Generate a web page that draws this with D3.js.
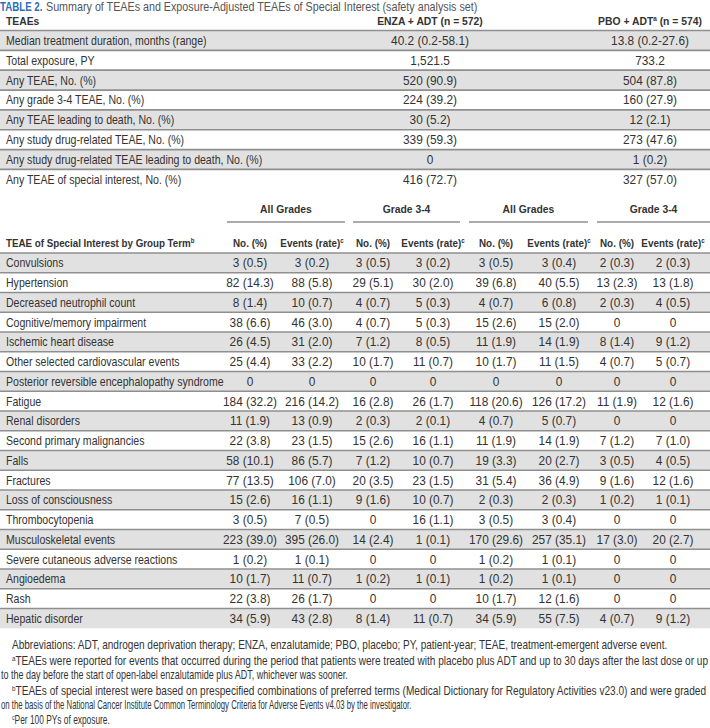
<!DOCTYPE html>
<html>
<head>
<meta charset="utf-8">
<script src="https://cdn.jsdelivr.net/npm/d3@7"></script>
<style>
  html, body { margin: 0; padding: 0; background: #fff; }
  svg { display: block; font-family: "Liberation Sans", Arial, sans-serif; }
</style>
</head>
<body>
<div id="chart"></div>
<script>
// ---------- Data ----------
const t1Labels = [
  'Median treatment duration, months (range)',
  'Total exposure, PY',
  'Any TEAE, No. (%)',
  'Any grade 3-4 TEAE, No. (%)',
  'Any TEAE leading to death, No. (%)',
  'Any study drug-related TEAE, No. (%)',
  'Any study drug-related TEAE leading to death, No. (%)',
  'Any TEAE of special interest, No. (%)'
];
const t1Enza = ['40.2 (0.2-58.1)', '1,521.5', '520 (90.9)', '224 (39.2)', '30 (5.2)', '339 (59.3)', '0', '416 (72.7)'];
const t1Pbo  = ['13.8 (0.2-27.6)', '733.2', '504 (87.8)', '160 (27.9)', '12 (2.1)', '273 (47.6)', '1 (0.2)', '327 (57.0)'];

const terms = [
  'Convulsions', 'Hypertension', 'Decreased neutrophil count', 'Cognitive/memory impairment',
  'Ischemic heart disease', 'Other selected cardiovascular events', 'Posterior reversible encephalopathy syndrome',
  'Fatigue', 'Renal disorders', 'Second primary malignancies', 'Falls', 'Fractures', 'Loss of consciousness',
  'Thrombocytopenia', 'Musculoskeletal events', 'Severe cutaneous adverse reactions', 'Angioedema', 'Rash',
  'Hepatic disorder'
];
const enzaAllN  = ['3 (0.5)','82 (14.3)','8 (1.4)','38 (6.6)','26 (4.5)','25 (4.4)','0','184 (32.2)','11 (1.9)','22 (3.8)','58 (10.1)','77 (13.5)','15 (2.6)','3 (0.5)','223 (39.0)','1 (0.2)','10 (1.7)','22 (3.8)','34 (5.9)'];
const enzaAllEv = ['3 (0.2)','88 (5.8)','10 (0.7)','46 (3.0)','31 (2.0)','33 (2.2)','0','216 (14.2)','13 (0.9)','23 (1.5)','86 (5.7)','106 (7.0)','16 (1.1)','7 (0.5)','395 (26.0)','1 (0.1)','11 (0.7)','26 (1.7)','43 (2.8)'];
const enzaG34N  = ['3 (0.5)','29 (5.1)','4 (0.7)','4 (0.7)','7 (1.2)','10 (1.7)','0','16 (2.8)','2 (0.3)','15 (2.6)','7 (1.2)','20 (3.5)','9 (1.6)','0','14 (2.4)','0','1 (0.2)','0','8 (1.4)'];
const enzaG34Ev = ['3 (0.2)','30 (2.0)','5 (0.3)','5 (0.3)','8 (0.5)','11 (0.7)','0','26 (1.7)','2 (0.1)','16 (1.1)','10 (0.7)','23 (1.5)','10 (0.7)','16 (1.1)','1 (0.1)','0','1 (0.1)','0','11 (0.7)'];
const pboAllN   = ['3 (0.5)','39 (6.8)','4 (0.7)','15 (2.6)','11 (1.9)','10 (1.7)','0','118 (20.6)','4 (0.7)','11 (1.9)','19 (3.3)','31 (5.4)','2 (0.3)','3 (0.5)','170 (29.6)','1 (0.2)','1 (0.2)','10 (1.7)','34 (5.9)'];
const pboAllEv  = ['3 (0.4)','40 (5.5)','6 (0.8)','15 (2.0)','14 (1.9)','11 (1.5)','0','126 (17.2)','5 (0.7)','14 (1.9)','20 (2.7)','36 (4.9)','2 (0.3)','3 (0.4)','257 (35.1)','1 (0.1)','1 (0.1)','12 (1.6)','55 (7.5)'];
const pboG34N   = ['2 (0.3)','13 (2.3)','2 (0.3)','0','8 (1.4)','4 (0.7)','0','11 (1.9)','0','7 (1.2)','3 (0.5)','9 (1.6)','1 (0.2)','0','17 (3.0)','0','0','0','4 (0.7)'];
const pboG34Ev  = ['2 (0.3)','13 (1.8)','4 (0.5)','0','9 (1.2)','5 (0.7)','0','12 (1.6)','0','7 (1.0)','4 (0.5)','12 (1.6)','1 (0.1)','0','20 (2.7)','0','0','0','9 (1.2)'];

const groups = ['All Grades', 'Grade 3-4', 'All Grades', 'Grade 3-4'];
const colKeys = ['eAN', 'eAE', 'eGN', 'eGE', 'pAN', 'pAE', 'pGN', 'pGE'];
const colData = [enzaAllN, enzaAllEv, enzaG34N, enzaG34Ev, pboAllN, pboAllEv, pboG34N, pboG34Ev];

const footnotes = [
  { sup: '', text: 'Abbreviations: ADT, androgen deprivation therapy; ENZA, enzalutamide; PBO, placebo; PY, patient-year; TEAE, treatment-emergent adverse event.' },
  { sup: 'a', text: 'TEAEs were reported for events that occurred during the period that patients were treated with placebo plus ADT and up to 30 days after the last dose or up' },
  { sup: '', text: 'to the day before the start of open-label enzalutamide plus ADT, whichever was sooner.', cont: true },
  { sup: 'b', text: 'TEAEs of special interest were based on prespecified combinations of preferred terms (Medical Dictionary for Regulatory Activities v23.0) and were graded' },
  { sup: '', text: 'on the basis of the National Cancer Institute Common Terminology Criteria for Adverse Events v4.03 by the investigator.', cont: true },
  { sup: 'c', text: 'Per 100 PYs of exposure.' }
];
// right edge each footnote line reaches in the original
const footEnds = [668, 709, 348, 707, 412, 110];

// ---------- Layout ----------
const W = 710, H = 728;
const TXT = '#333', SHADE = '#e1e1e1', RULE = '#8f8f8f';
const SX_LAB = 0.845, SX_VAL = 0.95, SX_HEAD = 0.9;   // narrow the stock font like the condensed original
const svg = d3.select('#chart').append('svg').attr('width', W).attr('height', H);

const addSup = (sel, s) => sel.append('tspan').attr('dy', -4).attr('font-size', '0.62em').text(s);
const tf = (x, y, sx) => `translate(${x},${y}) scale(${sx},1)`;
// squeeze a text so it spans from x0 to xEnd
const fit = (el, x0, y, xEnd) => el.attr('transform', tf(x0, y, (xEnd - x0) / el.node().getComputedTextLength()));

// Title
svg.append('text').attr('transform', tf(0, 10.5, 0.72)).attr('font-size', 13.5)
  .attr('fill', '#2c6fb5').attr('font-weight', 'bold').text('TABLE 2.');
fit(svg.append('text').attr('font-size', 13).attr('fill', '#555')
  .text('Summary of TEAEs and Exposure-Adjusted TEAEs of Special Interest (safety analysis set)'), 46, 10.5, 478);

// ---------- Table 1 ----------
const y1 = d3.scaleBand().domain(d3.range(t1Labels.length)).range([30.5, 30.5 + 8 * 19.85]);
const x1 = d3.scaleOrdinal().domain(['enza', 'pbo']).range([430, 650]);
const mid1 = i => y1(i) + y1.bandwidth() / 2 + 4.5;

const h1 = svg.append('g').attr('fill', TXT).attr('font-weight', 'bold').attr('font-size', 11.5);
h1.append('text').attr('transform', tf(6, 25, SX_HEAD)).text('TEAEs');
h1.append('text').attr('transform', tf(x1('enza'), 25, SX_HEAD)).attr('text-anchor', 'middle').text('ENZA + ADT (n = 572)');
const ph = h1.append('text').attr('transform', tf(x1('pbo'), 25, SX_HEAD)).attr('text-anchor', 'middle').text('PBO + ADT');
addSup(ph, 'a');
ph.append('tspan').attr('dy', 4).text(' (n = 574)');

const g1 = svg.append('g');
g1.selectAll('rect').data(t1Labels).join('rect')
  .attr('x', 0).attr('width', W).attr('y', (d, i) => y1(i)).attr('height', y1.bandwidth())
  .attr('fill', (d, i) => i % 2 === 0 ? SHADE : '#fff');
g1.selectAll('line').data(d3.range(t1Labels.length)).join('line')
  .attr('x1', 0).attr('x2', W).attr('y1', i => y1(i)).attr('y2', i => y1(i))
  .attr('stroke', RULE).attr('stroke-width', 1.7);

const cells1 = g1.append('g').attr('fill', TXT).attr('font-size', 12.5);
cells1.selectAll('text.lab').data(t1Labels).join('text').attr('class', 'lab')
  .attr('transform', (d, i) => tf(6, mid1(i), SX_LAB)).text(d => d);
cells1.selectAll('text.enza').data(t1Enza).join('text').attr('class', 'enza')
  .attr('transform', (d, i) => tf(x1('enza'), mid1(i), SX_VAL))
  .attr('text-anchor', 'middle').text(d => d);
cells1.selectAll('text.pbo').data(t1Pbo).join('text').attr('class', 'pbo')
  .attr('transform', (d, i) => tf(x1('pbo'), mid1(i), SX_VAL))
  .attr('text-anchor', 'middle').text(d => d);

// ---------- Table 2 ----------
const y2 = d3.scaleBand().domain(terms).range([253, 253 + terms.length * 19.75]);
const x2 = d3.scaleOrdinal().domain(colKeys).range([250, 312, 373, 433, 496, 559, 617, 673]);
const mid2 = d => y2(d) + y2.bandwidth() / 2 + 4.5;
const gSpan = [[227, 345], [353, 460], [469, 588], [597, 710]];

const gh = svg.append('g').attr('fill', TXT).attr('font-weight', 'bold').attr('font-size', 11.5);
groups.forEach((g, i) => {
  const [a, b] = gSpan[i];
  gh.append('text').attr('transform', tf((a + b) / 2, 213, SX_HEAD)).attr('text-anchor', 'middle').text(g);
  gh.append('line').attr('x1', a).attr('x2', b).attr('y1', 222).attr('y2', 222)
    .attr('stroke', RULE).attr('stroke-width', 1.7);
});

const hy = 247;
const t = gh.append('text').attr('transform', tf(6, hy, 0.85)).text('TEAE of Special Interest by Group Term');
addSup(t, 'b');
colKeys.forEach((k, i) => {
  const el = gh.append('text').attr('transform', tf(x2(k), hy, 0.86)).attr('text-anchor', 'middle');
  if (i % 2 === 0) el.text('No. (%)');
  else { el.text('Events (rate)'); addSup(el, 'c'); }
});

const g2 = svg.append('g');
g2.selectAll('rect').data(terms).join('rect')
  .attr('x', 0).attr('width', W).attr('y', d => y2(d)).attr('height', y2.bandwidth())
  .attr('fill', (d, i) => i % 2 === 0 ? SHADE : '#fff');
g2.selectAll('line').data(terms).join('line')
  .attr('x1', 0).attr('x2', W).attr('y1', d => y2(d)).attr('y2', d => y2(d))
  .attr('stroke', RULE).attr('stroke-width', 1.7);

const cells2 = g2.append('g').attr('fill', TXT).attr('font-size', 12.5);
cells2.selectAll('text.term').data(terms).join('text').attr('class', 'term')
  .attr('transform', d => tf(6, mid2(d), SX_LAB)).text(d => d);
colKeys.forEach((k, ci) => {
  cells2.selectAll('text.c' + k).data(colData[ci]).join('text').attr('class', 'c' + k)
    .attr('transform', (d, i) => tf(x2(k), mid2(terms[i]), SX_VAL))
    .attr('text-anchor', 'middle').text(d => d);
});

// ---------- Footnotes ----------
const fy = d3.scaleOrdinal().domain(d3.range(footnotes.length)).range([649, 665, 679, 695, 709, 724]);
const fn = svg.append('g').attr('fill', TXT).attr('font-size', 12);
footnotes.forEach((f, i) => {
  const x0 = f.cont ? 1 : 12;
  const el = fn.append('text');
  if (f.sup) addSup(el, f.sup);
  el.append('tspan').attr('dy', f.sup ? 4 : 0).text(f.text);
  fit(el, x0, fy(i), footEnds[i]);
});
</script>
</body>
</html>
